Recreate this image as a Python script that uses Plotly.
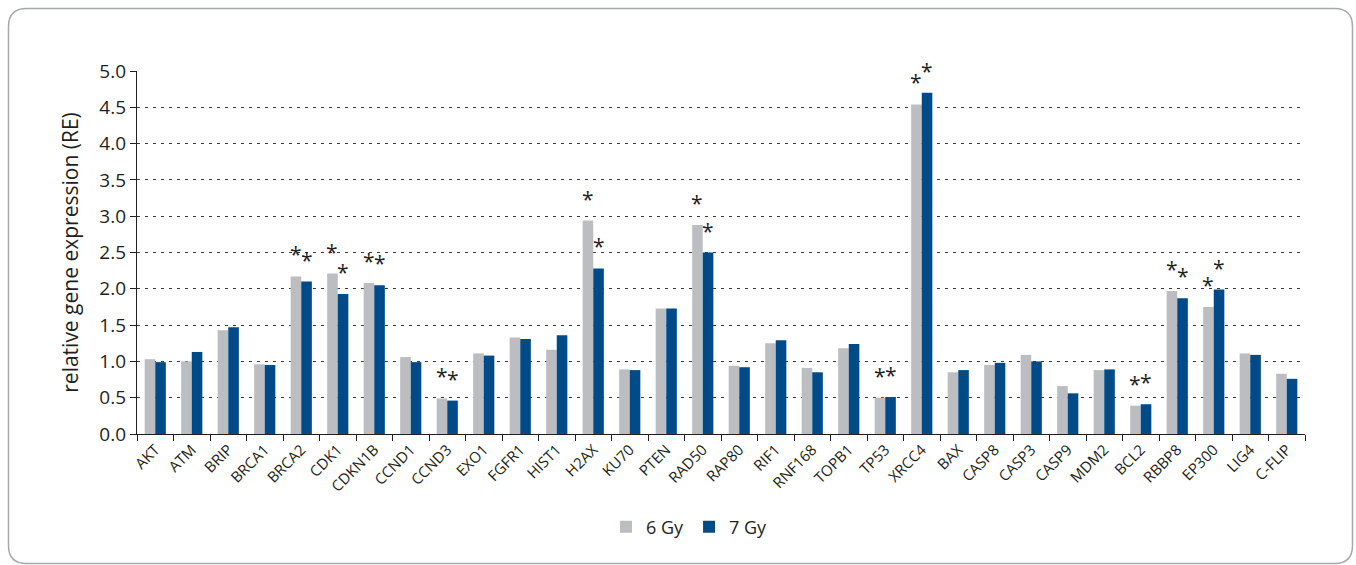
import plotly.graph_objects as go

# Relative gene expression after irradiation with 6 Gy and 7 Gy
genes = ["AKT", "ATM", "BRIP", "BRCA1", "BRCA2", "CDK1", "CDKN1B", "CCND1", "CCND3",
         "EXO1", "FGFR1", "HIST1", "H2AX", "KU70", "PTEN", "RAD50", "RAP80", "RIF1",
         "RNF168", "TOPB1", "TP53", "XRCC4", "BAX", "CASP8", "CASP3", "CASP9", "MDM2",
         "BCL2", "RBBP8", "EP300", "LIG4", "C-FLIP"]
gy6 = [1.03, 1.00, 1.43, 0.96, 2.17, 2.21, 2.08, 1.06, 0.49, 1.11, 1.33, 1.16, 2.94,
       0.89, 1.73, 2.88, 0.94, 1.25, 0.91, 1.18, 0.50, 4.54, 0.85, 0.95, 1.09, 0.66,
       0.88, 0.39, 1.97, 1.75, 1.11, 0.83]
gy7 = [0.99, 1.13, 1.47, 0.95, 2.10, 1.93, 2.05, 0.99, 0.46, 1.08, 1.31, 1.36, 2.28,
       0.88, 1.73, 2.50, 0.92, 1.29, 0.85, 1.24, 0.51, 4.70, 0.88, 0.98, 1.00, 0.56,
       0.89, 0.41, 1.87, 1.99, 1.09, 0.76]
significant = ["BRCA2", "CDK1", "CDKN1B", "CCND3", "H2AX", "RAD50", "TP53", "XRCC4",
               "BCL2", "RBBP8", "EP300"]
series_names = ["6 Gy", "7 Gy"]
y_ticks = [0.0, 0.5, 1.0, 1.5, 2.0, 2.5, 3.0, 3.5, 4.0, 4.5, 5.0]

GRAY = "#bbbdc0"
BLUE = "#004b87"
TEXT = "#231f20"
FONT = "Open Sans"

W, H = 1356, 565
L, R, T, B = 137, 51, 71, 131
PW, PH = W - L - R, H - T - B

fig = go.Figure()
fig.add_trace(go.Bar(x=genes, y=gy6, name=series_names[0], marker=dict(color=GRAY, line_width=0)))
fig.add_trace(go.Bar(x=genes, y=gy7, name=series_names[1], marker=dict(color=BLUE, line_width=0)))

# significance asterisks above both bars of a pair
n_cat_px = PW / len(genes)
half_bar = n_cat_px * (1 - 0.42) / 4
annotations = []
for g in significant:
    i = genes.index(g)
    for val, shift in ((gy6[i], -half_bar), (gy7[i], half_bar)):
        annotations.append(dict(
            x=g, y=val, xref="x", yref="y", text="*", showarrow=False,
            xshift=shift, yshift=6, yanchor="bottom", xanchor="center",
            font=dict(family=FONT, size=21, color=TEXT)))


def px(xp, yp):
    return (xp - L) / PW, (H - B - yp) / PH


# rounded frame around the figure
x0, y0, x1, y1, r = 8.5, 8.5, 1352.5, 563.5, 18
def P(a, b):
    u, v = px(a, b)
    return f"{u:.5f},{v:.5f}"
path = (f"M {P(x0 + r, y0)} L {P(x1 - r, y0)} Q {P(x1, y0)} {P(x1, y0 + r)} "
        f"L {P(x1, y1 - r)} Q {P(x1, y1)} {P(x1 - r, y1)} "
        f"L {P(x0 + r, y1)} Q {P(x0, y1)} {P(x0, y1 - r)} "
        f"L {P(x0, y0 + r)} Q {P(x0, y0)} {P(x0 + r, y0)} Z")

fig.update_layout(
    width=W, height=H,
    margin=dict(l=L, r=R, t=T, b=B, autoexpand=False),
    paper_bgcolor="white", plot_bgcolor="white",
    barmode="group", bargap=0.42, bargroupgap=0,
    font=dict(family=FONT, color=TEXT),
    showlegend=True,
    legend=dict(orientation="h", x=px(606, 0)[0], xanchor="left",
                y=px(0, 527)[1], yanchor="middle",
                font=dict(family=FONT, size=18, color=TEXT),
                itemwidth=30, tracegroupgap=0, bgcolor="rgba(0,0,0,0)"),
    annotations=annotations,
    shapes=[dict(type="path", xref="paper", yref="paper", path=path,
                 line=dict(color="#a7a9ac", width=1.5), fillcolor="rgba(0,0,0,0)",
                 layer="below")],
)
fig.update_xaxes(
    type="category", showline=True, linecolor="#231f20", linewidth=1.3,
    ticks="outside", tickson="boundaries", ticklen=6, tickcolor="#231f20",
    tickwidth=1.2, tickangle=-45, tickfont=dict(family=FONT, size=15, color=TEXT),
    showgrid=False, zeroline=False)
fig.update_yaxes(
    range=[0, 5], tickvals=y_ticks, tickformat=".1f",
    showline=True, linecolor="#231f20", linewidth=1.3,
    ticks="outside", ticklen=6, tickcolor="#231f20", tickwidth=1.2,
    tickfont=dict(family=FONT, size=19, color=TEXT),
    showgrid=True, gridcolor="#3a3a3c", gridwidth=1.4, griddash="3px,5px",
    zeroline=False,
    title=dict(text="relative gene expression (RE)", standoff=14,
               font=dict(family=FONT, size=21, color=TEXT)))

fig.write_html("out.html")
